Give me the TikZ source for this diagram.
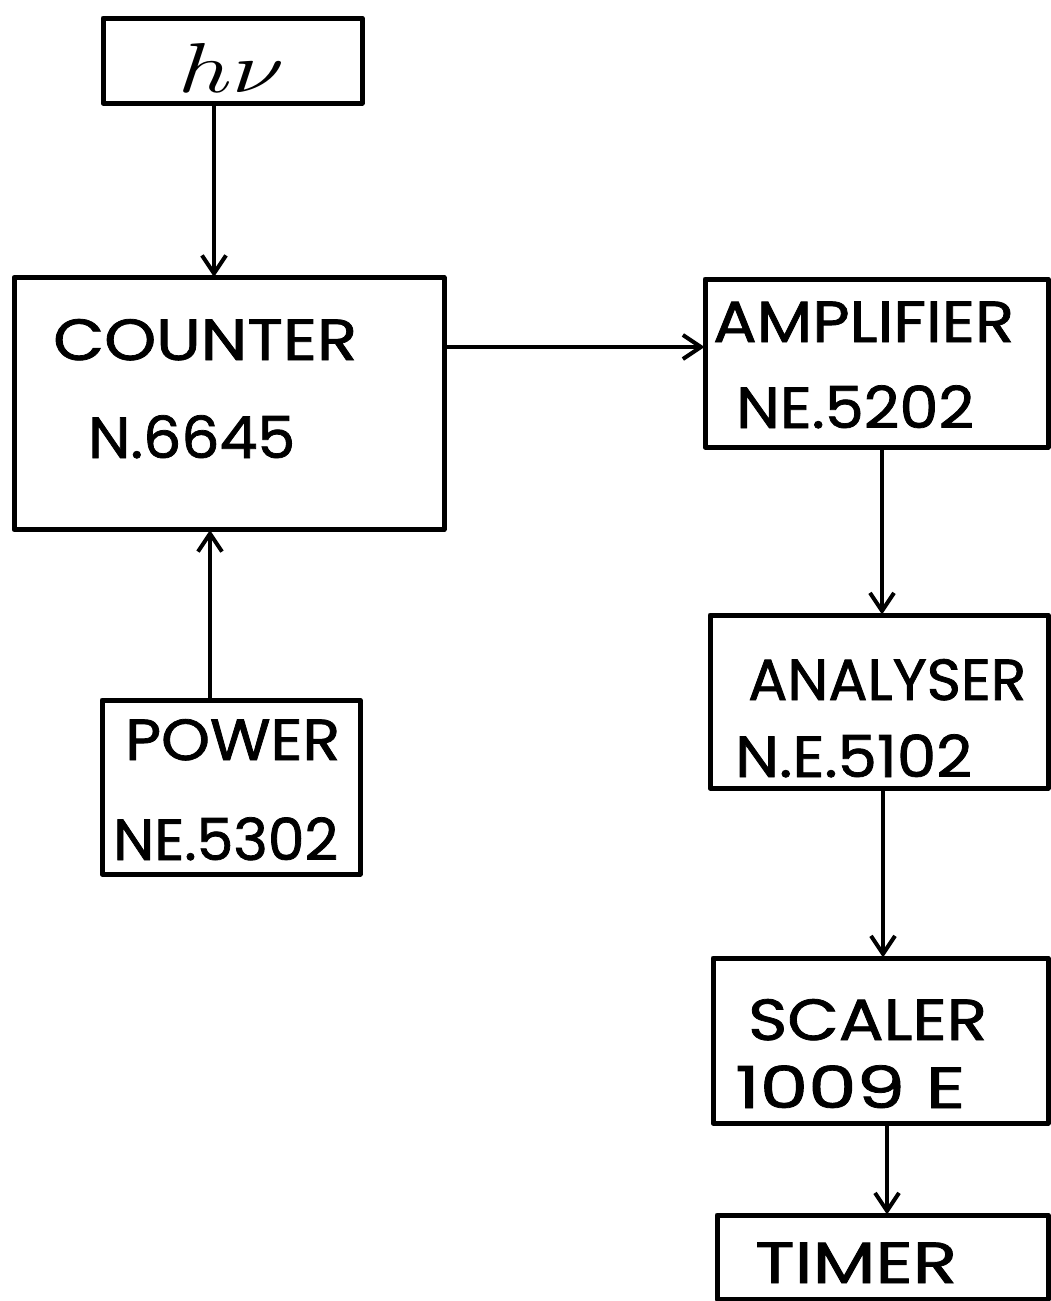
\documentclass[tikz,border=0pt]{standalone}
\usepackage{fontspec}
\setmainfont{Poppins}
\newfontfamily\lblfont{Poppins}[FakeBold=1.3]
\usetikzlibrary{arrows.meta}
\newsavebox\fitbox
\newcommand\fitw[2]{\sbox\fitbox{#2}\pgfmathsetmacro\fitr{#1/\the\wd\fitbox}\scalebox{\fitr}[1]{\usebox\fitbox}}
\tikzset{
  blockbox/.style={draw, line width=5pt, rectangle, inner sep=0pt, line join=round},
  lbl/.style={anchor=base west, inner sep=0pt, font=\lblfont\fontsize{58}{60}\selectfont},
  arr/.style={line width=4pt, -{Straight Barb[length=18pt,width=24pt,line width=4pt]}, shorten >=-2pt}
}
\begin{document}
\begin{tikzpicture}[x=1pt,y=-1pt]
\useasboundingbox[fill=white] (0,0) rectangle (1051,1301);
% boxes
\node[blockbox, minimum width=259pt, minimum height=85pt] (hv) at (232.5,60.5) {};
\node[blockbox, minimum width=430pt, minimum height=252pt] (counter) at (229,403.5) {};
\node[blockbox, minimum width=258pt, minimum height=174pt] (power) at (231,787) {};
\node[blockbox, minimum width=343pt, minimum height=168pt] (amp) at (876.5,363) {};
\node[blockbox, minimum width=338pt, minimum height=173pt] (ana) at (879,701.5) {};
\node[blockbox, minimum width=335pt, minimum height=165pt] (scaler) at (880.5,1040.5) {};
\node[blockbox, minimum width=331pt, minimum height=84pt] (timer) at (882.5,1257) {};
% labels
\node[anchor=base west, inner sep=0pt] (lhv) at (178,92) {\resizebox{106pt}{49pt}{$h\nu$}};
\node[lbl] (l1) at (53,360) {\fitw{304}{COUNTER}};
\node[lbl] (l2) at (88,458) {\fitw{207}{N.6645}};
\node[lbl] (l3) at (125,760) {\fitw{215}{POWER}};
\node[lbl] (l4) at (113,860) {\fitw{225}{NE.5302}};
\node[lbl] (l5) at (713,342) {\fitw{301}{AMPLIFIER}};
\node[lbl] (l6) at (736,428) {\fitw{238}{NE.5202}};
\node[lbl] (l7) at (748,700) {\fitw{278}{ANALYSER}};
\node[lbl] (l8) at (735,777) {\fitw{237}{N.E.5102}};
\node[lbl] (l9) at (748,1040) {\fitw{239}{SCALER}};
\node[lbl] (l10) at (735,1108) {\fitw{230}{1009 E}};
\node[lbl] (l11) at (755,1283) {\fitw{202}{TIMER}};
% connector guides
\coordinate (ca) at (214,0);
\coordinate (cb) at (210,0);
\coordinate (cc) at (0,347);
\coordinate (cd) at (882,0);
\coordinate (ce) at (883,0);
\coordinate (cf) at (887,0);
% connectors
\draw[arr] (hv.south -| ca) -- (counter.north -| ca);
\draw[arr] (power.north -| cb) -- (counter.south -| cb);
\draw[arr] (counter.east |- cc) -- (amp.west |- cc);
\draw[arr] (amp.south -| cd) -- (ana.north -| cd);
\draw[arr] (ana.south -| ce) -- (scaler.north -| ce);
\draw[arr] (scaler.south -| cf) -- (timer.north -| cf);
\end{tikzpicture}
\end{document}
